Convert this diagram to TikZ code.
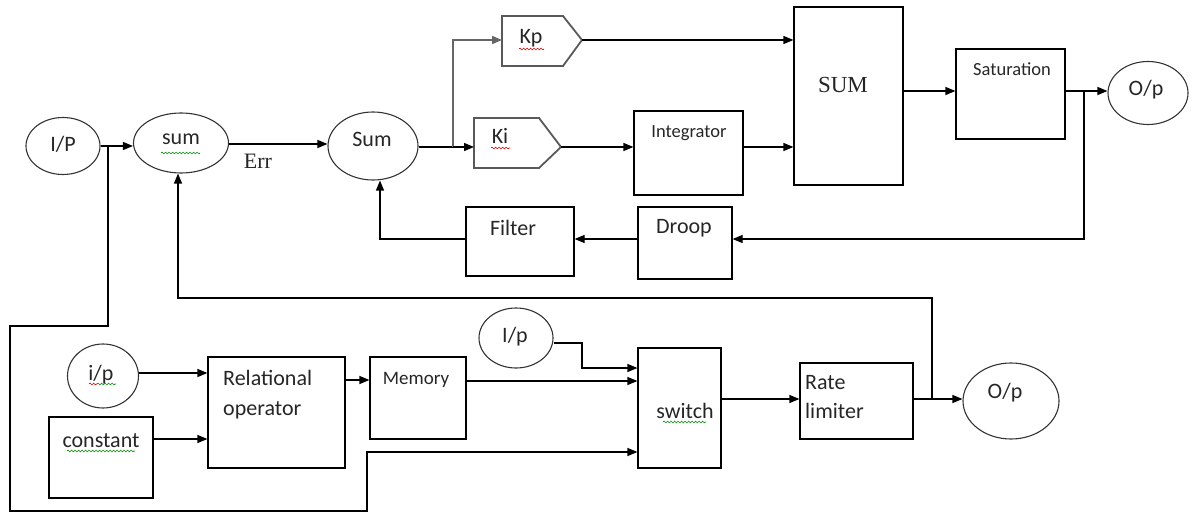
\documentclass[tikz,border=0pt]{standalone}
\usepackage{fontspec}
\setmainfont{Carlito}
\newfontfamily\tnr{Liberation Serif}
\usetikzlibrary{arrows.meta,shapes.geometric,decorations.pathmorphing,calc}
\begin{document}
\begin{tikzpicture}[x=1pt,y=-1pt,
  ell/.style={draw=black!80, line width=1.1pt, ellipse, inner sep=0pt},
  blk/.style={draw=black, line width=1.2pt, rectangle, inner sep=0pt},
  lbl/.style={inner sep=0pt, text=black!85},
  fa/.style={font=\fontsize{22}{26}\selectfont},
  fb/.style={font=\fontsize{18.5}{22}\selectfont},
  wire/.style={line width=1.2pt, draw=black},
  arr/.style={wire, -{Triangle[length=10pt,width=8pt]}},
  gwire/.style={line width=1.8pt, draw=black!60},
  garr/.style={gwire, -{Triangle[length=10pt,width=8pt]}},
  sqg/.style={draw=green!55!black, line width=0.6pt, decorate, decoration={snake, amplitude=0.9pt, segment length=3.5pt}},
  sqr/.style={draw=red!85!black, line width=0.6pt, decorate, decoration={snake, amplitude=0.9pt, segment length=3.5pt}},
  pent/.style={draw=black!65, line width=1.8pt, line join=miter}
]
\useasboundingbox (0,0) rectangle (1196,513);

% ---------- top row ----------
\node[ell, minimum width=74, minimum height=57] (ip) at (63,146) {};
\node[lbl, fa] (ipT) at (63,144) {I/P};

\node[ell, minimum width=95, minimum height=60] (s1) at (181,143) {};
\node[lbl, fa] (s1T) at (181,139) {sum};
\draw[sqg] (161,153) -- (200,153);

\node[lbl, font=\tnr\fontsize{22}{26}\selectfont] (err) at (258,161) {Err};

\node[ell, minimum width=90, minimum height=68] (s2) at (373,146) {};
\node[lbl, fa] (s2T) at (372,139) {Sum};

% Kp pentagon
\node[inner sep=0pt, minimum width=80, minimum height=50] (kp) at (542,41) {};
\draw[pent] (502,16) -- (563,16) -- (582,40) -- (563,66) -- (502,66) -- cycle;
\coordinate (kpin) at (502,40);
\coordinate (kpout) at (582,40);
\node[lbl, fa] (kpT) at (531,38) {Kp};
\draw[sqr] (519,49) -- (544,49);

% Ki pentagon
\node[inner sep=0pt, minimum width=87, minimum height=50] (ki) at (517.5,143) {};
\draw[pent] (474,118) -- (539,118) -- (561,147) -- (539,168) -- (474,168) -- cycle;
\coordinate (kiin) at (474,147);
\coordinate (kiout) at (561,147);
\node[lbl, fa] (kiT) at (500,136) {Ki};
\draw[sqr] (491,148) -- (510,148);

\node[blk, minimum width=109, minimum height=84] (integ) at (688.5,153) {};
\node[lbl, fb] (integT) at (689,133) {Integrator};

\node[blk, minimum width=109, minimum height=178] (sum3) at (848.5,96) {};
\node[lbl, font=\tnr\fontsize{23}{27}\selectfont] (sum3T) at (843,85) {SUM};

\node[blk, minimum width=109, minimum height=90] (sat) at (1010.5,94) {};
\node[lbl, fb] (satT) at (1012,69) {Saturation};

\node[ell, minimum width=80, minimum height=63] (op1) at (1148,93) {};
\node[lbl, fa] (op1T) at (1146,90) {O/p};

\node[blk, minimum width=108, minimum height=69] (filt) at (520,241.5) {};
\node[lbl, fa] (filtT) at (513,228) {Filter};

\node[blk, minimum width=94, minimum height=72] (droop) at (685,243) {};
\node[lbl, fa] (droopT) at (684,228) {Droop};

% ---------- bottom row ----------
\node[ell, minimum width=71, minimum height=64] (ip2) at (103,376) {};
\node[lbl, fa] (ip2T) at (101,375) {i/p};
\draw[sqr] (89,384) -- (97,384);
\draw[sqg] (97,384) -- (116,384);

\node[blk, minimum width=104, minimum height=81] (const) at (101,457.5) {};
\node[lbl, fa] (constT) at (101,441) {constant};
\draw[sqg] (67,451) -- (135,451);

\node[blk, minimum width=137, minimum height=111] (rel) at (276.5,412.5) {};
\node[lbl, fa, align=left, anchor=north west, font=\fontsize{22}{30}\selectfont] (relT) at (223,370) {Relational\\operator};

\node[blk, minimum width=96, minimum height=82] (mem) at (418,398) {};
\node[lbl, font=\fontsize{19}{22}\selectfont] (memT) at (416,380) {Memory};

\node[ell, minimum width=74, minimum height=60] (ip3) at (516,338) {};
\node[lbl, fa] (ip3T) at (515,337) {I/p};

\node[blk, minimum width=83, minimum height=120] (sw) at (679.5,408) {};
\node[lbl, fa] (swT) at (685,411) {switch};
\draw[sqg] (663,422) -- (706,422);

\node[blk, minimum width=113, minimum height=76] (rate) at (856.5,401) {};
\node[lbl, fa, align=left, anchor=north west, font=\fontsize{22}{29}\selectfont] (rateT) at (805,375) {Rate\\limiter};

\node[ell, minimum width=96, minimum height=76] (op2) at (1011,401) {};
\node[lbl, fa] (op2T) at (1005,393) {O/p};

% ---------- connectors ----------
\draw[arr] (ip.east |- 0,146) -- (s1.west |- 0,146);
\draw[arr] (s1.east |- 0,144) -- (s2.west |- 0,144);
\draw[wire] (s2.east |- 0,147) -- (453,147);
\draw[garr] (453,147) -- (453,40) -- (kpin);
\draw[arr] (453,147) -- (kiin);
\draw[arr] (kpout) -- (sum3.west |- kpout);
\draw[arr] (kiout) -- (integ.west |- kiout);
\draw[arr] (integ.east |- 0,147) -- (sum3.west |- 0,147);
\draw[arr] (sum3.east |- 0,91) -- (sat.west |- 0,91);
\draw[arr] (sat.east |- 0,91) -- (op1.west |- 0,91);
\draw[arr] (1084,91) -- (1084,239) -- (droop.east |- 0,239);
\draw[arr] (droop.west |- 0,239) -- (filt.east |- 0,239);
\draw[arr] (filt.west |- 0,239) -- (380,239) -- (380,0 |- s2.south);

\draw[arr] (108,146) -- (108,326) -- (10,326) -- (10,511) -- (367,511) -- (367,452) -- (sw.west |- 0,452);
\draw[arr] (ip2.east |- 0,373) -- (rel.west |- 0,373);
\draw[arr] (const.east |- 0,439) -- (rel.west |- 0,439);
\draw[arr] (rel.east |- 0,380) -- (mem.west |- 0,380);
\draw[arr] (mem.east |- 0,381) -- (sw.west |- 0,381);
\draw[arr] (ip3.east |- 0,343) -- (582,343) -- (582,368) -- (sw.west |- 0,368);
\draw[arr] (sw.east |- 0,399) -- (rate.west |- 0,399);
\draw[arr] (rate.east |- 0,399) -- (op2.west |- 0,399);
\draw[arr] (932,399) -- (932,298) -- (178,298) -- (178,0 |- s1.south);
\end{tikzpicture}
\end{document}
